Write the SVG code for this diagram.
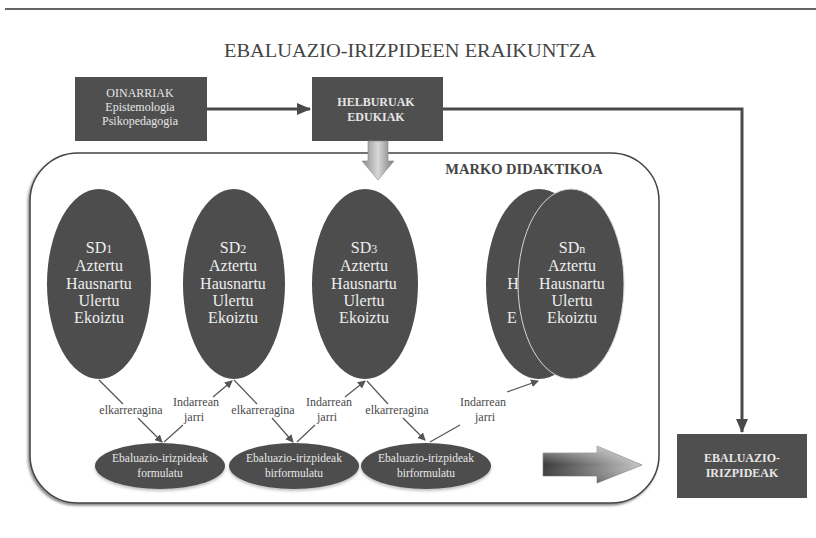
<svg xmlns="http://www.w3.org/2000/svg" width="816" height="538" viewBox="0 0 816 538" font-family="'Liberation Serif', 'DejaVu Serif', serif">
<defs>
<style>
.t{font-family:"Liberation Serif","DejaVu Serif",serif;text-anchor:middle}
.box{fill:#4f4f4f}
.bt{fill:#e6e6e6;font-size:12px}
.el{fill:#4d4d4d}
.et{fill:#eeeeee;font-size:16px}
.ev{fill:#4d4d4d}
.evt{fill:#e8e8e8;font-size:11.5px}
.lab{fill:#4a4a4a;font-size:12px}
.thin{stroke:#555;stroke-width:1.2;fill:none}
.thick{stroke:#4a4a4a;stroke-width:3;fill:none}
</style>
<marker id="ah" markerWidth="8" markerHeight="8" refX="7" refY="4" orient="auto" markerUnits="userSpaceOnUse">
<path d="M0,0 L8,4 L0,8 Z" fill="#555"/>
</marker>
<marker id="ahb" markerWidth="14" markerHeight="14" refX="13" refY="7" orient="auto" markerUnits="userSpaceOnUse">
<path d="M0,1 L14,7 L0,13 Z" fill="#4a4a4a"/>
</marker>
<linearGradient id="gv" x1="0" y1="0" x2="1" y2="0">
<stop offset="0" stop-color="#8a8a8a"/>
<stop offset="0.5" stop-color="#d8d8d8"/>
<stop offset="1" stop-color="#7a7a7a"/>
</linearGradient>
<linearGradient id="gh" x1="0" y1="0" x2="1" y2="0">
<stop offset="0" stop-color="#3a3a3a"/>
<stop offset="0.6" stop-color="#8c8c8c"/>
<stop offset="1" stop-color="#c8c8c8"/>
</linearGradient>
<linearGradient id="ghv" x1="0" y1="0" x2="0" y2="1">
<stop offset="0" stop-color="#ffffff" stop-opacity="0.5"/>
<stop offset="0.5" stop-color="#ffffff" stop-opacity="0"/>
<stop offset="1" stop-color="#000000" stop-opacity="0.2"/>
</linearGradient>
<filter id="sh" x="-5%" y="-5%" width="110%" height="110%">
<feDropShadow dx="-1.5" dy="2" stdDeviation="1.2" flood-color="#000" flood-opacity="0.45"/>
</filter>
<filter id="sh2" x="-10%" y="-10%" width="120%" height="130%">
<feDropShadow dx="0" dy="2" stdDeviation="1.5" flood-color="#000" flood-opacity="0.25"/>
</filter>
</defs>
<rect x="0" y="0" width="816" height="538" fill="#ffffff"/>
<line x1="5" y1="9" x2="816" y2="9" stroke="#333" stroke-width="1.5"/>
<text class="t" x="410" y="57" font-size="19" fill="#444" textLength="372" lengthAdjust="spacingAndGlyphs">EBALUAZIO-IRIZPIDEEN ERAIKUNTZA</text>

<g id="container">
<rect x="30" y="153" width="629" height="350" rx="48" ry="48" fill="#ffffff" stroke="#444" stroke-width="1.5" filter="url(#sh)"/>
<text class="t" x="524" y="174" font-size="14.5" fill="#444" font-weight="bold">MARKO DIDAKTIKOA</text>
</g>

<g id="oinarriak">
<rect class="box" x="75" y="77" width="132" height="64"/>
<text class="t bt" x="140" y="97">OINARRIAK</text>
<text class="t bt" x="140" y="111">Epistemologia</text>
<text class="t bt" x="140" y="125">Psikopedagogia</text>
</g>

<g id="helburuak">
<rect class="box" x="312" y="77" width="131" height="64"/>
<text class="t bt" x="376" y="106" font-weight="bold">HELBURUAK</text>
<text class="t bt" x="376" y="121" font-weight="bold">EDUKIAK</text>
</g>

<g id="ebaluazio-irizpideak">
<rect class="box" x="677" y="434" width="130" height="64"/>
<text class="t bt" x="742" y="462" font-weight="bold">EBALUAZIO-</text>
<text class="t bt" x="742" y="477" font-weight="bold">IRIZPIDEAK</text>
</g>

<g id="down-arrow">
<path d="M368,141 H388 V161 H394 L378,180 L362,161 H368 Z" fill="url(#gv)" stroke="#888" stroke-width="0.6"/>
</g>

<g id="sd1">
<ellipse class="el" cx="99" cy="284" rx="52" ry="95"/>
<text class="t et" x="99" y="253">SD<tspan font-size="12">1</tspan></text>
<text class="t et" x="99" y="271">Aztertu</text>
<text class="t et" x="99" y="289">Hausnartu</text>
<text class="t et" x="99" y="306">Ulertu</text>
<text class="t et" x="99" y="323">Ekoiztu</text>
</g>
<g id="sd2">
<ellipse class="el" cx="234" cy="284" rx="51" ry="95"/>
<text class="t et" x="233" y="253">SD<tspan font-size="12">2</tspan></text>
<text class="t et" x="233" y="271">Aztertu</text>
<text class="t et" x="233" y="289">Hausnartu</text>
<text class="t et" x="233" y="306">Ulertu</text>
<text class="t et" x="233" y="323">Ekoiztu</text>
</g>
<g id="sd3">
<ellipse class="el" cx="365" cy="284" rx="53" ry="95"/>
<text class="t et" x="364" y="253">SD<tspan font-size="12">3</tspan></text>
<text class="t et" x="364" y="271">Aztertu</text>
<text class="t et" x="364" y="289">Hausnartu</text>
<text class="t et" x="364" y="306">Ulertu</text>
<text class="t et" x="364" y="323">Ekoiztu</text>
</g>
<g id="sdn-back">
<ellipse class="el" cx="539" cy="284" rx="53" ry="95"/>
<text class="t et" x="513" y="289">H</text>
<text class="t et" x="512" y="323">E</text>
</g>
<g id="sdn">
<ellipse class="el" cx="571" cy="284" rx="53" ry="95" stroke="#d8d8d8" stroke-width="1"/>
<text class="t et" x="572" y="253">SD<tspan font-size="12">n</tspan></text>
<text class="t et" x="572" y="271">Aztertu</text>
<text class="t et" x="572" y="289">Hausnartu</text>
<text class="t et" x="572" y="306">Ulertu</text>
<text class="t et" x="572" y="323">Ekoiztu</text>
</g>

<g id="eval1">
<ellipse class="ev" cx="160" cy="466" rx="65" ry="23" filter="url(#sh2)"/>
<text class="t evt" x="160" y="462">Ebaluazio-irizpideak</text>
<text class="t evt" x="160" y="477">formulatu</text>
</g>
<g id="eval2">
<ellipse class="ev" cx="294" cy="466" rx="65" ry="23" filter="url(#sh2)"/>
<text class="t evt" x="294" y="462">Ebaluazio-irizpideak</text>
<text class="t evt" x="294" y="477">birformulatu</text>
</g>
<g id="eval3">
<ellipse class="ev" cx="426" cy="466" rx="65" ry="23" filter="url(#sh2)"/>
<text class="t evt" x="426" y="462">Ebaluazio-irizpideak</text>
<text class="t evt" x="426" y="477">birformulatu</text>
</g>

<g id="right-arrow">
<path d="M543,453 H597 V446 L642,465 L597,483 V476 H543 Z" fill="url(#gh)" stroke="#777" stroke-width="0.6"/>
<path d="M543,453 H597 V446 L642,465 L597,483 V476 H543 Z" fill="url(#ghv)"/>
</g>

<g id="connectors">
<path class="thick" d="M207,109 H310" marker-end="url(#ahb)"/>
<path class="thick" d="M443,109 H742 V432" marker-end="url(#ahb)"/>

<path class="thin" d="M99,380 L123,404"/>
<path class="thin" d="M138,418 L162,442" marker-end="url(#ah)"/>
<path class="thin" d="M164,442 L183,425"/>
<path class="thin" d="M213,397 L232,381" marker-end="url(#ah)"/>

<path class="thin" d="M234,380 L257,404"/>
<path class="thin" d="M272,418 L293,442" marker-end="url(#ah)"/>
<path class="thin" d="M297,442 L315,425"/>
<path class="thin" d="M345,397 L365,381" marker-end="url(#ah)"/>

<path class="thin" d="M367,381 L388,404"/>
<path class="thin" d="M403,418 L425,440" marker-end="url(#ah)"/>
<path class="thin" d="M430,442 L460,425"/>
<path class="thin" d="M507,392 L538,381" marker-end="url(#ah)"/>

<text class="t lab" x="131" y="414">elkarreragina</text>
<text class="t lab" x="196" y="406">Indarrean</text>
<text class="t lab" x="194" y="421">jarri</text>
<text class="t lab" x="263" y="414">elkarreragina</text>
<text class="t lab" x="329" y="406">Indarrean</text>
<text class="t lab" x="327" y="421">jarri</text>
<text class="t lab" x="397" y="414">elkarreragina</text>
<text class="t lab" x="483" y="406">Indarrean</text>
<text class="t lab" x="485" y="421">jarri</text>
</g>
</svg>
